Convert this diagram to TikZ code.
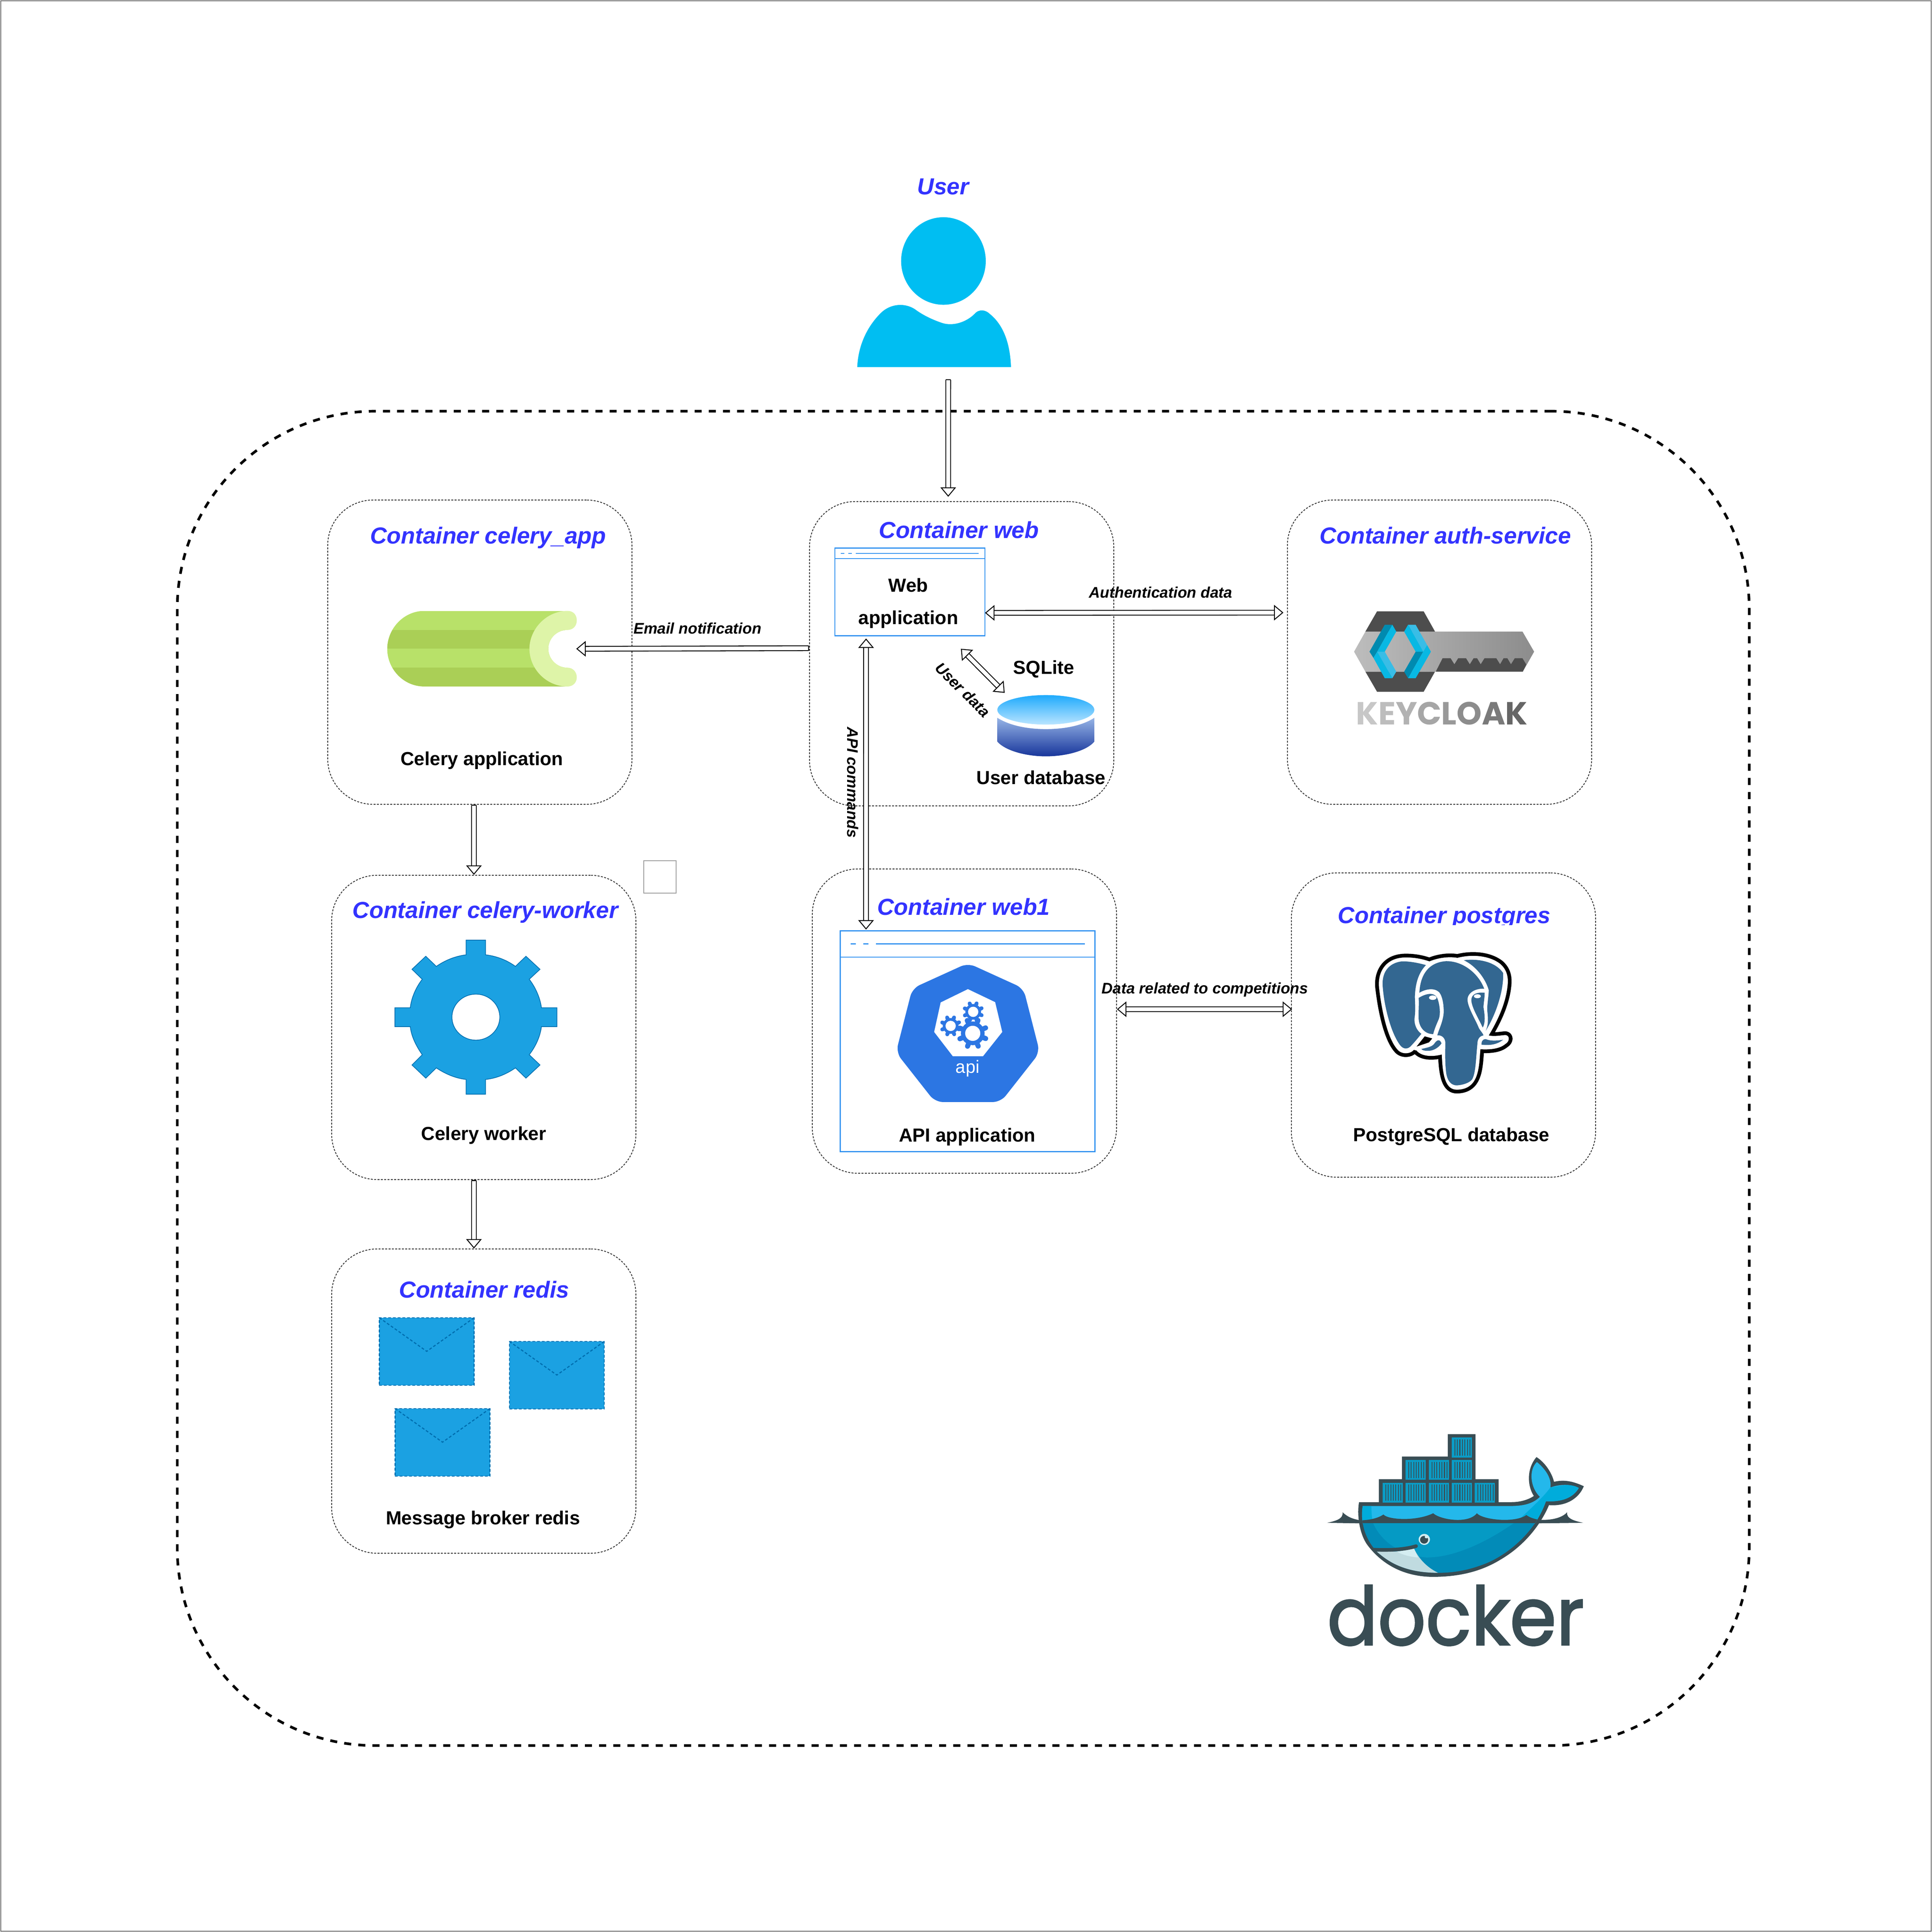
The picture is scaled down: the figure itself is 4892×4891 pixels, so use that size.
\documentclass[tikz,border=0pt]{standalone}
\usepackage{fontspec}
\setmainfont{Liberation Sans}
\newfontfamily\logofont{Poppins}
\newfontfamily\dockfont[FakeBold=2]{Poppins}
\usetikzlibrary{arrows.meta}
\definecolor{titleblue}{HTML}{3333FF}
\definecolor{winblue}{HTML}{2E90F0}
\definecolor{mailblue}{HTML}{1BA1E2}
\definecolor{maildark}{HTML}{006EAF}
\definecolor{personblue}{HTML}{00BEF2}
\definecolor{kubeblue}{HTML}{2C76E3}
\definecolor{pgblue}{HTML}{336791}
\definecolor{dockdark}{HTML}{394D54}
\definecolor{whalelight}{HTML}{24B8EB}
\definecolor{whaletail}{HTML}{00ACDB}
\definecolor{whalemid}{HTML}{059AC4}
\definecolor{whalelow}{HTML}{028BB8}
\definecolor{tilecol}{HTML}{0A9CC6}
\definecolor{keydark}{HTML}{4D4D4D}
\tikzset{
  hollow/.tip={Triangle[open,fill=white,length=6.8pt,width=11.2pt,line width=.65pt]},
  closedend/.tip={Bar[width=3.6pt,line width=.65pt]},
  container/.style={draw=black!80,line width=.6pt,dash pattern=on 1.4pt off 1pt,rounded corners=1.15cm,minimum width=7.7cm,minimum height=7.7cm},
  iconbox/.style={inner sep=0,outer sep=0},
  window/.style={draw=winblue,line width=.7pt,inner sep=0,outer sep=0},
  winline/.style={draw=winblue,line width=.7pt},
  title/.style={anchor=base,inner sep=0,text=titleblue,font=\fontsize{16.7}{20}\selectfont\bfseries\itshape},
  caption/.style={anchor=base,inner sep=0,font=\fontsize{13.6}{16}\selectfont\bfseries},
  flowtext/.style={anchor=base,inner sep=0,font=\fontsize{11.05}{13}\selectfont\bfseries\itshape},
  flow/.style={double,double distance=2.8pt,line width=.65pt},
  mailbox/.style={draw=maildark,fill=mailblue,line width=.8pt,dash pattern=on 2pt off 1.4pt,minimum width=2.4cm,minimum height=1.71cm,inner sep=0,outer sep=0},
  flap/.style={draw=maildark,line width=.8pt,dash pattern=on 2pt off 1.4pt}
}
\begin{document}
\begin{tikzpicture}[x=.01cm,y=-.01cm]
\useasboundingbox (0,0) rectangle (4892,4891);
\draw[black!60,line width=.5pt] (2,2) rectangle (4890,4889);

% big dashed stack
\node[draw,line width=1.9pt,dash pattern=on 5.1pt off 5.1pt,rounded corners=5cm,minimum width=39.78cm,minimum height=33.76cm,inner sep=0] (stack) at (2439,2730) {};

% containers
\node[container] (app) at (1215,1651) {};
\node[container] (web) at (2435,1655) {};
\node[container] (auth) at (3645,1651) {};
\node[container] (worker) at (1225,2601) {};
\node[container] (web1) at (2442,2585) {};
\node[container] (postgres) at (3655,2595) {};
\node[container] (redis) at (1225,3547) {};
\node[draw=black!40,line width=.5pt,minimum size=.82cm,inner sep=0] (spare) at (1671,2220) {};

% titles
\node[title] (usertitle) at (2388,493) {User};
\node[title] (apptitle) at (1236,1376) {Container celery\_app};
\node[title] (webtitle) at (2428,1362) {Container web};
\node[title] (authtitle) at (3660,1376) {Container auth-service};
\node[title] (workertitle) at (1229,2324) {Container celery-worker};
\node[title] (web1title) at (2440,2316) {Container web1};
\node[title] (pgtitle) at (3657,2337) {Container postgres};
\node[title] (redistitle) at (1226,3285) {Container redis};

% person
\node[iconbox,minimum width=3.9cm,minimum height=3.8cm] (user) at (2366,740) {};
\begin{scope}[shift={(2100,500)},x=.003333cm,y=-.003333cm]
\fill[personblue] (868,483) ellipse [x radius=322,y radius=333];
\fill[personblue] (212,1290) .. controls (220,1120) and (290,980) .. (390,880)
  .. controls (470,800) and (590,800) .. (665,860)
  .. controls (730,905) and (800,935) .. (860,955)
  .. controls (940,980) and (1040,950) .. (1105,885)
  .. controls (1140,845) and (1190,855) .. (1220,885)
  .. controls (1320,965) and (1375,1100) .. (1382,1290) -- cycle;
\end{scope}

% celery
\node[iconbox,minimum width=4.79cm,minimum height=1.91cm] (celeryicon) at (1219.5,1642.5) {};
\begin{scope}[shift={(900,1480)},x=.004464cm,y=-.003333cm]
\def\celerybody{(390,200) -- (1200,200) -- (1200,775) -- (390,775) .. controls (270,775) and (180,640) .. (180,488) .. controls (180,340) and (270,200) .. (390,200) -- cycle}
\begin{scope}
\clip \celerybody;
\fill[fill={rgb,255:red,184;green,225;blue,105}] (170,200) rectangle (1210,345);
\fill[fill={rgb,255:red,170;green,207;blue,86}] (170,345) rectangle (1210,488);
\fill[fill={rgb,255:red,184;green,225;blue,105}] (170,488) rectangle (1210,632);
\fill[fill={rgb,255:red,170;green,207;blue,86}] (170,632) rectangle (1210,775);
\fill[white] (1200,345) .. controls (1140,345) and (1092,410) .. (1092,488)
  .. controls (1092,565) and (1140,632) .. (1200,632) -- (1210,632) -- (1210,345) -- cycle;
\end{scope}
\fill[fill={rgb,255:red,222;green,244;blue,168}] (1200,200) .. controls (1240,200) and (1253,240) .. (1253,272)
  .. controls (1253,310) and (1235,345) .. (1200,345)
  .. controls (1140,345) and (1092,410) .. (1092,488)
  .. controls (1092,565) and (1140,632) .. (1200,632)
  .. controls (1235,632) and (1253,670) .. (1253,705)
  .. controls (1253,740) and (1235,775) .. (1200,775)
  .. controls (1080,775) and (985,640) .. (985,488)
  .. controls (985,340) and (1080,200) .. (1200,200) -- cycle;
\end{scope}
\node[caption] (appcap) at (1220,1937) {Celery application};

% web window
\node[window,minimum width=3.8cm,minimum height=2.216cm] (webwin) at (2304,1498.5) {};
\draw[winline] ([yshift=-.265cm]webwin.north west) -- ([yshift=-.265cm]webwin.north east);
\draw[winline] ([xshift=.155cm,yshift=-.135cm]webwin.north west) -- +(9,0);
\draw[winline] ([xshift=.34cm,yshift=-.135cm]webwin.north west) -- +(9,0);
\draw[winline] ([xshift=.53cm,yshift=-.135cm]webwin.north west) -- +(311,0);
\node[caption] (webcap) at (2300,1498) {Web};
\node[caption] (webcap2) at (2300,1580) {application};

% sqlite
\node[iconbox,minimum width=2.46cm,minimum height=1.55cm] (sqlite) at (2648,1837.5) {};
\begin{scope}[shift={(2000,1200)},x=.00574cm,y=-.00574cm]
\shade[top color={rgb,255:red,150;green,180;blue,230},bottom color={rgb,255:red,24;green,54;blue,155}]
  (915,1075) -- (915,1180) .. controls (950,1220) and (1040,1245) .. (1129,1245)
  .. controls (1220,1245) and (1310,1220) .. (1343,1180) -- (1343,1075)
  .. controls (1290,1110) and (1210,1125) .. (1129,1125)
  .. controls (1050,1125) and (970,1110) .. (915,1075) -- cycle;
\shade[top color={rgb,255:red,30;green,170;blue,252},bottom color={rgb,255:red,185;green,228;blue,255}] (1129,1040) ellipse [x radius=214,y radius=65];
\end{scope}
\node[caption] (sqlcap) at (2643,1706) {SQLite};
\node[caption] (dbcap) at (2636,1985) {User database};

% keycloak
\begin{scope}[shift={(3350,1500)},x=.003827cm,y=-.003333cm]
\fill[keydark] (357,143) -- (665,143) -- (740,297) -- (280,297) -- cycle;
\fill[keydark] (280,602) -- (740,602) -- (665,755) -- (357,755) -- cycle;
\shade[left color=black!26,right color=black!45] (205,450) -- (280,297) -- (1318,297) -- (1395,450) -- (1320,602) -- (280,602) -- cycle;
\fill[keydark] (790,500) -- (843,500) -- (868,546) -- (893,500) -- (945,500) -- (970,546) -- (995,500) -- (1018,500) -- (1042,546) -- (1067,500) -- (1145,500) -- (1170,546) -- (1193,500) -- (1218,500) -- (1242,546) -- (1267,500) -- (1318,500) -- (1343,548) -- (1320,602) -- (745,602) -- cycle;
\fill[fill={rgb,255:red,0;green,138;blue,175}] (408,245) -- (458,245) -- (358,450) -- (333,497) -- (307,450) -- cycle;
\fill[fill={rgb,255:red,8;green,184;blue,227}] (458,245) -- (484,297) -- (408,450) -- (358,450) -- cycle;
\fill[fill={rgb,255:red,57;green,189;blue,230}] (358,450) -- (408,450) -- (484,602) -- (458,652) -- cycle;
\fill[fill={rgb,255:red,8;green,184;blue,227}] (333,497) -- (358,450) -- (458,652) -- (408,652) -- cycle;
\fill[fill={rgb,255:red,57;green,189;blue,230}] (562,245) -- (612,245) -- (688,400) -- (662,450) -- cycle;
\fill[fill={rgb,255:red,8;green,184;blue,227}] (536,297) -- (562,245) -- (662,450) -- (612,450) -- cycle;
\fill[fill={rgb,255:red,0;green,138;blue,175}] (612,450) -- (662,450) -- (562,652) -- (536,602) -- cycle;
\fill[fill={rgb,255:red,8;green,184;blue,227}] (662,450) -- (688,400) -- (713,450) -- (612,652) -- (562,652) -- cycle;
\end{scope}
\node[anchor=base,inner sep=0,font=\logofont\bfseries\fontsize{23}{26}\selectfont] (keycap) at (3651,1834) {{\color{black!22}K}{\color{black!26}E}{\color{black!30}Y}{\color{black!35}C}{\color{black!40}L}{\color{black!45}O}{\color{black!52}A}{\color{black!60}K}};

% gear
\begin{scope}[shift={(960,2340)},x=.003333cm,y=-.003333cm]
\draw[draw=maildark,fill=mailblue,line width=.5pt,even odd rule]
  (662,120) -- (810,120) -- (810,232) .. controls (900,243) and (975,275) .. (1037,320)
  -- (1117,243) -- (1224,342) -- (1142,418) .. controls (1190,480) and (1225,560) .. (1235,635)
  -- (1353,635) -- (1353,778) -- (1235,778) .. controls (1225,855) and (1190,930) .. (1142,992)
  -- (1224,1070) -- (1117,1170) -- (1037,1092) .. controls (975,1135) and (900,1170) .. (810,1180)
  -- (810,1292) -- (662,1292) -- (662,1180) .. controls (575,1170) and (500,1135) .. (435,1092)
  -- (355,1170) -- (250,1070) -- (328,992) .. controls (285,930) and (245,855) .. (237,778)
  -- (120,778) -- (120,635) -- (237,635) .. controls (245,560) and (280,480) .. (328,418)
  -- (250,342) -- (355,243) -- (435,320) .. controls (500,275) and (575,243) .. (662,232) -- cycle
  (736,706) ellipse [x radius=182,y radius=175];
\end{scope}
\node[caption] (workercap) at (1225,2886) {Celery worker};

% api window
\node[window,minimum width=6.45cm,minimum height=5.59cm] (apiwin) at (2450,2636) {};
\draw[winline] ([yshift=-.665cm]apiwin.north west) -- ([yshift=-.665cm]apiwin.north east);
\draw[winline] ([xshift=.264cm,yshift=-.33cm]apiwin.north west) -- +(13,0);
\draw[winline] ([xshift=.584cm,yshift=-.33cm]apiwin.north west) -- +(13,0);
\draw[winline] ([xshift=.904cm,yshift=-.33cm]apiwin.north west) -- +(529,0);
\begin{scope}[shift={(2150,2350)},x=.003827cm,y=-.003827cm]
\fill[kubeblue,rounded corners=.2cm] (785,230) -- (1152,397) -- (1260,820) -- (1002,1148) -- (568,1148) -- (310,820) -- (418,397) -- cycle;
\fill[white] (785,402) -- (965,488) -- (1012,685) -- (885,845) -- (685,845) -- (562,685) -- (605,490) -- cycle;
\foreach \gx/\gy/\gr/\gt/\gh/\gw in {817/694/78/92/50/3.6,820/552/52/60/34/2.8,671/645/52/60/34/2.8}{
  \fill[kubeblue] (\gx,\gy) circle [radius=\gr];
  \foreach \ga in {0,45,...,315}
    \draw[kubeblue,line width=\gw pt,line cap=round] (\gx,\gy) ++(\ga+22:\gr) -- ++(\ga+22:{\gt-\gr});
  \fill[white] (\gx,\gy) circle [radius=\gh];
}
\end{scope}
\node[anchor=base,inner sep=0,text=white,font=\fontsize{12.8}{15}\selectfont] (apilabel) at (2450,2716) {api};
\node[caption] (apicap) at (2449,2890) {API application};

% elephant, its white square hides the foot of the title
\fill[white] (3440,2342) rectangle (3880,2800);
\begin{scope}[shift={(3350,2350)},x=.003827cm,y=-.003333cm]
\def\elephantedge{(703,252) .. controls (770,220) and (840,215) .. (888,225)
  .. controls (970,200) and (1090,200) .. (1170,270)
  .. controls (1215,315) and (1225,370) .. (1220,430)
  .. controls (1210,560) and (1160,690) .. (1095,815)
  .. controls (1130,825) and (1170,815) .. (1205,812)
  .. controls (1235,815) and (1235,860) .. (1205,880)
  .. controls (1170,915) and (1110,925) .. (1040,920)
  .. controls (1030,1050) and (1035,1225) .. (885,1228)
  .. controls (815,1228) and (790,1140) .. (785,960)
  .. controls (720,980) and (650,975) .. (618,930)
  -- (600,925) .. controls (580,955) and (520,965) .. (490,920)
  .. controls (430,840) and (390,650) .. (370,450)
  .. controls (360,340) and (410,220) .. (550,222)
  .. controls (610,222) and (660,235) .. (703,252) -- cycle}
\draw[black,line width=5.4pt,line join=round] \elephantedge;
\fill[white] \elephantedge;
\fill[black] (672,822) -- (722,838) -- (700,868) -- (618,900) -- cycle;
\fill[pgblue] (680,280) .. controls (620,260) and (560,250) .. (520,252)
  .. controls (430,265) and (385,340) .. (395,450)
  .. controls (405,600) and (450,800) .. (510,890)
  .. controls (530,920) and (560,925) .. (585,890)
  .. controls (610,860) and (630,830) .. (650,803)
  .. controls (620,780) and (600,730) .. (605,680)
  .. controls (612,630) and (608,570) .. (607,520)
  .. controls (610,420) and (630,340) .. (680,280) -- cycle;
\fill[pgblue] (637,490) .. controls (640,400) and (670,260) .. (815,250)
  .. controls (930,250) and (1030,350) .. (1065,460)
  .. controls (1010,455) and (950,490) .. (955,550)
  .. controls (960,610) and (1010,700) .. (1030,760)
  .. controls (1040,780) and (1060,805) .. (1060,815)
  .. controls (1030,820) and (1020,850) .. (1020,880)
  .. controls (1010,990) and (1010,1100) .. (985,1150)
  .. controls (965,1180) and (910,1195) .. (880,1195)
  .. controls (830,1190) and (815,1130) .. (812,1080)
  .. controls (805,1000) and (808,930) .. (808,865)
  .. controls (805,830) and (780,810) .. (755,815)
  .. controls (765,770) and (790,720) .. (797,650)
  .. controls (800,590) and (790,520) .. (770,490)
  .. controls (740,450) and (680,460) .. (637,490) -- cycle;
\fill[pgblue] (930,243) .. controls (1000,232) and (1130,240) .. (1190,340)
  .. controls (1195,480) and (1140,660) .. (1075,780)
  .. controls (1095,730) and (1090,680) .. (1085,620)
  .. controls (1085,570) and (1095,510) .. (1095,470)
  .. controls (1070,370) and (1000,280) .. (930,243) -- cycle;
\fill[pgblue] (632,530) .. controls (680,495) and (740,480) .. (758,540)
  .. controls (775,600) and (775,660) .. (765,690)
  .. controls (750,730) and (735,770) .. (728,805)
  .. controls (670,805) and (635,750) .. (632,690)
  .. controls (630,640) and (635,580) .. (632,530) -- cycle;
\fill[pgblue] (1068,490) .. controls (1030,487) and (980,490) .. (980,550)
  .. controls (985,610) and (1030,690) .. (1055,755)
  .. controls (1075,720) and (1068,650) .. (1060,600)
  .. controls (1062,560) and (1068,530) .. (1068,490) -- cycle;
\fill[white] (725,528) ellipse [x radius=25,y radius=17];
\fill[white] (1020,517) ellipse [x radius=23,y radius=15];
\fill[pgblue] (650,918) .. controls (700,905) and (725,900) .. (740,870)
  .. controls (755,850) and (770,840) .. (783,875)
  .. controls (760,915) and (720,935) .. (690,932)
  .. controls (670,932) and (655,928) .. (650,918) -- cycle;
\fill[pgblue] (1047,885) .. controls (1047,865) and (1050,845) .. (1075,843)
  .. controls (1110,860) and (1150,855) .. (1190,848)
  .. controls (1150,885) and (1100,893) .. (1047,885) -- cycle;
\end{scope}
\node[caption] (pgcap) at (3675,2889) {PostgreSQL database};

% mails
\foreach \mname/\mx/\my in {mail1/1080.5/3421.5,mail2/1410/3481.5,mail3/1120.5/3651.5}{
  \node[mailbox] (\mname) at (\mx,\my) {};
  \draw[flap] (\mname.north west) -- ([yshift=-.85cm]\mname.north) -- (\mname.north east);
}
\node[caption] (rediscap) at (1223,3859) {Message broker redis};

% docker
\begin{scope}[shift={(3300,3550)},x=.005102cm,y=-.004464cm]
\def\whaleinner{(295,587) -- (1030,587) .. controls (1090,587) and (1140,575) .. (1175,535)
  .. controls (1125,480) and (1120,380) .. (1160,338) .. controls (1200,375) and (1235,430) .. (1227,482)
  .. controls (1280,460) and (1340,465) .. (1368,485) .. controls (1340,540) and (1285,565) .. (1205,560)
  .. controls (1190,610) and (1165,660) .. (1150,685) .. controls (1080,800) and (980,880) .. (900,915)
  .. controls (820,950) and (750,965) .. (670,965) .. controls (500,965) and (420,900) .. (365,845)
  .. controls (320,790) and (280,700) .. (295,587) -- cycle}
\fill[dockdark] (277,565) -- (375,565) -- (375,435) -- (490,435) -- (490,307) -- (718,307) -- (718,180) -- (855,180) -- (855,435) -- (970,435) -- (970,565) -- (1035,565)
  .. controls (1080,565) and (1120,550) .. (1145,530) .. controls (1115,480) and (1105,380) .. (1158,310)
  .. controls (1200,340) and (1235,400) .. (1245,450) .. controls (1300,435) and (1345,450) .. (1393,475)
  .. controls (1370,540) and (1310,590) .. (1220,582) .. controls (1180,690) and (1100,810) .. (980,890)
  .. controls (880,960) and (770,988) .. (640,988) .. controls (480,985) and (380,900) .. (320,810)
  .. controls (280,750) and (265,640) .. (277,565) -- cycle;
\fill[dockdark] (118,682) .. controls (160,672) and (200,660) .. (195,622) .. controls (220,650) and (250,662) .. (280,667) -- (280,685) -- cycle;
\fill[dockdark] (1390,682) .. controls (1350,672) and (1305,660) .. (1310,622) .. controls (1290,650) and (1240,668) .. (1180,665) -- (1150,685) -- cycle;
\begin{scope}
\clip \whaleinner;
\fill[whalelight] (280,300) rectangle (1400,690);
\fill[whaletail] (1227,482) .. controls (1190,540) and (1130,600) .. (1075,660) -- (1050,690) -- (1400,690) -- (1400,450) -- cycle;
\fill[whaletail] (280,570) -- (338,570) .. controls (338,620) and (340,650) .. (345,680) -- (280,680) -- cycle;
\fill[whalelow] (270,680) rectangle (1200,1000);
\fill[whalemid] (345,680) -- (1050,680) .. controls (900,800) and (740,880) .. (610,878) .. controls (500,870) and (390,800) .. (345,680) -- cycle;
\fill[dockdark] (280,668) .. controls (300,668) and (360,665) .. (398,635) .. controls (420,665) and (560,675) .. (645,628) .. controls (680,665) and (820,690) .. (862,628) .. controls (890,665) and (1050,685) .. (1108,638) .. controls (1120,650) and (1145,660) .. (1170,665) -- (1170,684) -- (280,684) -- cycle;
\fill[fill={rgb,255:red,192;green,219;blue,224}] (350,843) .. controls (440,848) and (500,845) .. (550,828) .. controls (575,890) and (620,940) .. (675,968) -- (340,968) -- cycle;
\fill[fill={rgb,255:red,212;green,237;blue,241}] (465,845) -- (550,828) -- (570,878) .. controls (530,875) and (490,862) .. (465,845) -- cycle;
\end{scope}
\draw[dockdark,line width=2.6pt,line cap=round] (350,834) .. controls (420,838) and (500,835) .. (560,814);
\foreach \tx/\ty in {394/455,508/455,623/455,737/455,852/455,508/327,623/327,737/327,737/200}{
  \fill[tilecol] (\tx,\ty) rectangle ++(100,112);
  \foreach \ts in {1,...,7}
    \fill[dockdark] ({\tx+1+\ts*12.5},{\ty+10}) rectangle ++(4,92);
}
\fill[fill={rgb,255:red,212;green,237;blue,241}] (601,776) ellipse [x radius=28,y radius=31];
\fill[dockdark] (600,778) ellipse [x radius=20,y radius=22];
\fill[fill={rgb,255:red,212;green,237;blue,241}] (611,762) ellipse [x radius=8,y radius=8];
\end{scope}
\node[anchor=base,inner sep=0,text=dockdark,font=\dockfont\fontsize{58}{64}\selectfont] (dockercap) at (3686,4164) {\scalebox{.93}[1]{docker}};

% connectors
\draw[flow,{closedend}-{hollow}] ([xshift=.35cm,yshift=-.3cm]user.south) -- ([xshift=-.34cm,yshift=.11cm]web.north);
\draw[flow,{closedend}-{hollow}] ([yshift=.14cm]web.west) -- (celeryicon.east);
\draw[flow,{closedend}-{hollow}] ([xshift=-.15cm]app.south) -- ([xshift=-.25cm]worker.north);
\draw[flow,{closedend}-{hollow}] ([xshift=-.25cm]worker.south) -- ([xshift=-.25cm]redis.north);
\draw[flow,{hollow}-{hollow}] ([yshift=-.53cm]webwin.east) -- ([xshift=-.09cm,yshift=1cm]auth.west);
\draw[flow,{hollow}-{hollow}] ([xshift=-1.11cm,yshift=-.07cm]webwin.south) -- ([xshift=-2.57cm,yshift=.03cm]apiwin.north);
\draw[flow,{hollow}-{hollow}] ([xshift=1.29cm,yshift=-.33cm]webwin.south) -- ([xshift=.19cm,yshift=.06cm]sqlite.north west);
\draw[flow,{hollow}-{hollow}] ([yshift=.3cm]web1.east) -- ([xshift=.03cm,yshift=.4cm]postgres.west);

% connector labels
\node[flowtext] (emaillabel) at (1766,1604) {Email notification};
\node[flowtext] (authlabel) at (2939,1513) {Authentication data};
\node[flowtext] (datalabel) at (3051,2515) {Data related to competitions};
\node[flowtext,anchor=center,rotate=-45] (userlabel) at (2438,1746) {User data};
\node[flowtext,anchor=center,rotate=-90] (apilabelb) at (2159,1981) {API commands};
\end{tikzpicture}
\end{document}
